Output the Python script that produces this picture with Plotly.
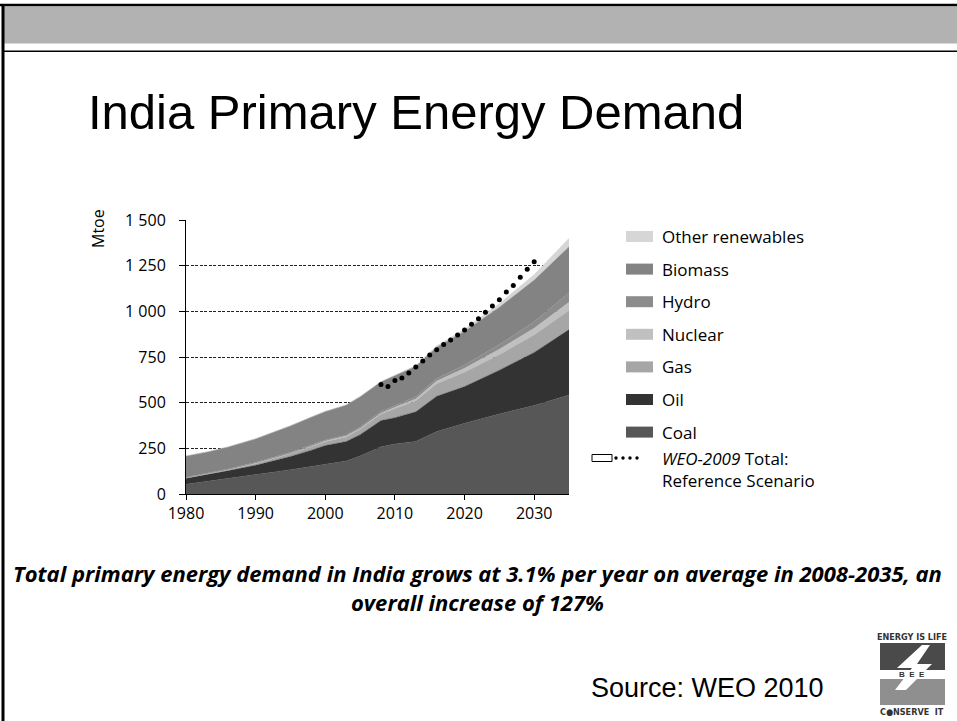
import plotly.graph_objects as go

# ---------------------------------------------------------------------------
# India primary energy demand by fuel (Mtoe), history and projection
# ---------------------------------------------------------------------------
years = [1980, 1983, 1986, 1990, 1993, 1995, 1998, 2000, 2003, 2005, 2008,
         2010, 2013, 2016, 2020, 2025, 2030, 2035]

coal = [53, 68, 83, 105, 122, 133, 150, 160, 180, 208, 258,
        274, 288, 342, 387, 438, 485, 542]
oil = [33, 38, 44, 52, 64, 72, 90, 105, 107, 117, 144,
       144, 162, 193, 201, 240, 290, 358]
gas = [1, 2, 4, 9, 12, 15, 19, 21, 25, 29, 36,
       50, 60, 68, 78, 85, 95, 105]
nuclear = [1, 1, 1, 2, 2, 2, 3, 4, 5, 5, 4,
           7, 10, 15, 22, 30, 38, 45]
hydro = [4, 4, 5, 6, 6, 6, 7, 6, 6, 8, 10,
         10, 12, 14, 18, 25, 35, 52]
biomass = [116, 117, 120, 128, 139, 145, 152, 156, 164, 166, 162,
           165, 168, 172, 185, 205, 228, 252]
other_renewables = [0, 0, 0, 0, 0, 0, 0, 0, 0, 1, 1,
                    2, 4, 7, 12, 20, 30, 46]

# WEO-2009 total primary energy demand, Reference Scenario
weo2009_years = list(range(2008, 2031))
weo2009_total = [600, 588, 622, 635, 662, 695, 728, 761, 790, 818, 843, 870,
                 898, 929, 960, 995, 1029, 1064, 1106, 1142, 1186, 1230, 1272]

y_ticks = [0, 250, 500, 750, 1000, 1250, 1500]
x_ticks = [1980, 1990, 2000, 2010, 2020, 2030]

series = [
    ("Coal", coal, "#575757"),
    ("Oil", oil, "#333333"),
    ("Gas", gas, "#a6a6a6"),
    ("Nuclear", nuclear, "#c0c0c0"),
    ("Hydro", hydro, "#8c8c8c"),
    ("Biomass", biomass, "#838383"),
    ("Other renewables", other_renewables, "#d6d6d6"),
]

# ---------------------------------------------------------------------------
# Page geometry (pixels) and helpers to place decorations in paper space
# ---------------------------------------------------------------------------
W, H = 957, 721
PL, PR, PT, PB = 186, 569, 220, 494


def px(x):
    return (x - PL) / (PR - PL)


def py(y):
    return (PB - y) / (PB - PT)


fig = go.Figure()

for name, values, color in series:
    fig.add_trace(go.Scatter(
        x=years, y=values, name=name, mode="lines",
        stackgroup="fuels", line=dict(width=0.4, color=color),
        fillcolor=color, showlegend=False, hoverinfo="x+y+name",
    ))

fig.add_trace(go.Scatter(
    x=weo2009_years, y=weo2009_total, mode="markers",
    name="WEO-2009 Total: Reference Scenario",
    marker=dict(size=5, color="black"), showlegend=False,
))

shapes = []
annotations = []

# Slide frame and header band
shapes.append(dict(type="rect", xref="paper", yref="paper",
                   x0=px(3), x1=px(960), y0=py(43.5), y1=py(6.5),
                   fillcolor="#b2b2b2", line=dict(width=0), layer="below"))
shapes.append(dict(type="line", xref="paper", yref="paper",
                   x0=px(0), x1=px(960), y0=py(5), y1=py(5),
                   line=dict(color="black", width=2.5)))
shapes.append(dict(type="line", xref="paper", yref="paper",
                   x0=px(3), x1=px(960), y0=py(51.2), y1=py(51.2),
                   line=dict(color="black", width=1.5)))
shapes.append(dict(type="line", xref="paper", yref="paper",
                   x0=px(3), x1=px(3), y0=py(4), y1=py(725),
                   line=dict(color="black", width=3)))

# Title
annotations.append(dict(
    xref="paper", yref="paper", x=px(86), y=py(112), xanchor="left",
    yanchor="middle", showarrow=False, text="India Primary Energy Demand",
    font=dict(family="Liberation Sans, Arial", size=49, color="black"),
))

# Y-axis unit
annotations.append(dict(
    xref="paper", yref="paper", x=px(98), y=py(229), xanchor="center",
    yanchor="middle", showarrow=False, text="Mtoe", textangle=-90,
    font=dict(family="Open Sans", size=16, color="black"),
))

# Legend, drawn top to bottom
legend_top = 236.5
legend_step = 32.6
for i, (name, values, color) in enumerate(reversed(series)):
    cy = legend_top + i * legend_step
    shapes.append(dict(type="rect", xref="paper", yref="paper",
                       x0=px(626), x1=px(653), y0=py(cy + 5.5), y1=py(cy - 5.5),
                       fillcolor=color, line=dict(width=0)))
    annotations.append(dict(
        xref="paper", yref="paper", x=px(660), y=py(cy), xanchor="left",
        yanchor="middle", showarrow=False, text=name,
        font=dict(family="Open Sans", size=17, color="black"),
    ))

weo_y = 458
shapes.append(dict(type="rect", xref="paper", yref="paper",
                   x0=px(592), x1=px(612), y0=py(461.5), y1=py(454.5),
                   fillcolor="white", line=dict(color="black", width=1)))
for dx in (616, 623, 630, 637):
    shapes.append(dict(type="circle", xref="paper", yref="paper",
                       x0=px(dx - 1.7), x1=px(dx + 1.7),
                       y0=py(weo_y + 1.7), y1=py(weo_y - 1.7),
                       fillcolor="black", line=dict(width=0)))
annotations.append(dict(
    xref="paper", yref="paper", x=px(660), y=py(469), xanchor="left",
    yanchor="middle", showarrow=False,
    text="<i>WEO-2009</i> Total:<br>Reference Scenario", align="left",
    font=dict(family="Open Sans", size=17, color="black"),
))

# Caption (two centred lines)
annotations.append(dict(
    xref="paper", yref="paper", x=px(477), y=py(587.5), xanchor="center",
    yanchor="middle", showarrow=False, align="center",
    text="<b><i>Total primary energy demand in India grows at 3.1% per year "
         "on average in 2008-2035, an<br>overall increase of 127%</i></b>",
    font=dict(family="Open Sans", size=22, color="black"),
))

# Source line
annotations.append(dict(
    xref="paper", yref="paper", x=px(589), y=py(688), xanchor="left",
    yanchor="middle", showarrow=False, text="Source: WEO 2010",
    font=dict(family="Liberation Sans, Arial", size=27, color="black"),
))

# BEE emblem
logo_font = dict(family="Liberation Sans Narrow, DejaVu Sans Condensed",
                 size=9, color="#333333")
annotations.append(dict(
    xref="paper", yref="paper", x=px(912), y=py(637), xanchor="center",
    yanchor="middle", showarrow=False, text="<b>ENERGY IS LIFE</b>",
    font=logo_font,
))
shapes.append(dict(type="rect", xref="paper", yref="paper",
                   x0=px(880), x1=px(945), y0=py(670), y1=py(643),
                   fillcolor="#4a4a4a", line=dict(width=0)))
shapes.append(dict(type="rect", xref="paper", yref="paper",
                   x0=px(880), x1=px(945), y0=py(705), y1=py(679),
                   fillcolor="#8f8f8f", line=dict(width=0)))


def ppath(points):
    return "M " + " L ".join(f"{px(a):.5f},{py(b):.5f}" for a, b in points) + " Z"


shapes.append(dict(type="path", xref="paper", yref="paper",
                   path=ppath([(922, 645), (897, 668), (912, 668), (895, 690),
                               (906, 690), (932, 664), (917, 664), (930, 645)]),
                   fillcolor="white", line=dict(width=0)))
annotations.append(dict(
    xref="paper", yref="paper", x=px(912), y=py(674.5), xanchor="center",
    yanchor="middle", showarrow=False, text="<b>B  E  E</b>",
    font=dict(family="Liberation Sans", size=8, color="#333333"),
))
annotations.append(dict(
    xref="paper", yref="paper", x=px(912), y=py(712), xanchor="center",
    yanchor="middle", showarrow=False, text="<b>C●NSERVE  IT</b>",
    font=logo_font,
))

fig.update_layout(
    width=W, height=H, autosize=False,
    margin=dict(l=PL, r=W - PR, t=PT, b=H - PB, pad=0),
    paper_bgcolor="white", plot_bgcolor="white",
    separators=". ",
    showlegend=False,
    shapes=shapes, annotations=annotations,
    font=dict(family="Open Sans", size=16, color="black"),
)

fig.update_xaxes(
    range=[1980, 2035], tickvals=x_ticks, showgrid=False, zeroline=False,
    showline=True, linecolor="black", linewidth=1,
    ticks="outside", ticklen=5, tickcolor="black", tickwidth=1,
    tickfont=dict(family="Open Sans", size=16, color="black"),
)
fig.update_yaxes(
    range=[0, 1500], tickvals=y_ticks, tickformat=",d",
    showgrid=True, gridcolor="#222222", gridwidth=0.8, griddash="3px,1.5px",
    zeroline=False, showline=True, linecolor="black", linewidth=1,
    ticks="outside", ticklen=6, tickcolor="black", tickwidth=1,
    ticklabelstandoff=10,
    tickfont=dict(family="Open Sans", size=16, color="black"),
)

fig.write_html("out.html")
